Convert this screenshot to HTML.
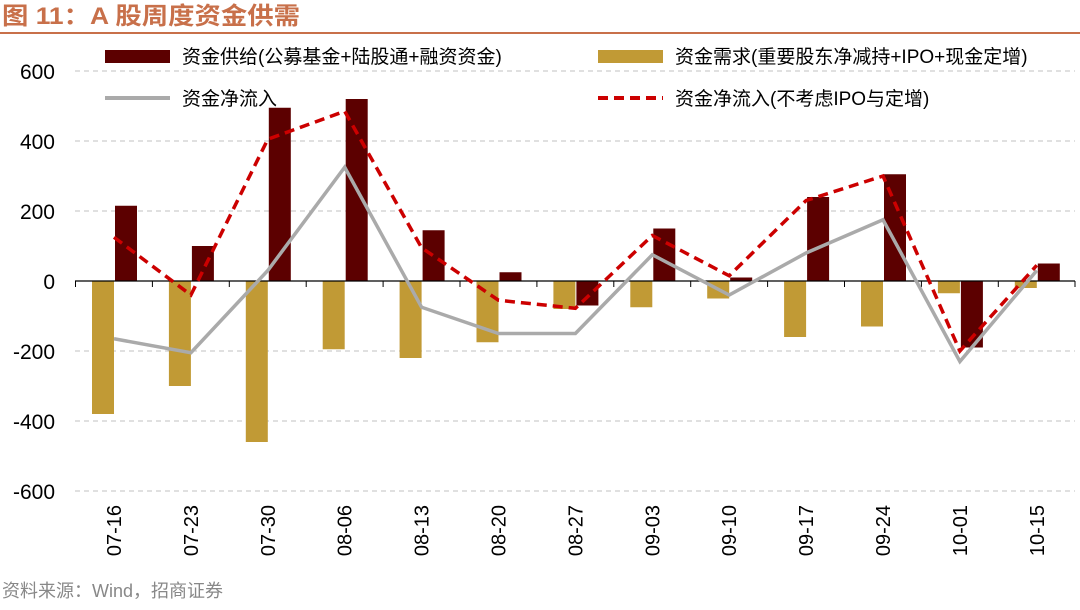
<!DOCTYPE html>
<html><head><meta charset="utf-8"><style>
body{margin:0;background:#fff;}
svg text{font-family:"Liberation Sans","Noto Sans CJK SC",sans-serif;}
</style></head><body>
<svg width="1080" height="605" xmlns="http://www.w3.org/2000/svg">
<text x="2" y="24" font-size="24" font-weight="bold" fill="#c8704a" textLength="298" lengthAdjust="spacingAndGlyphs">图 11：A 股周度资金供需</text>
<rect x="0" y="32" width="1080" height="2" fill="#c8704a"/>
<g stroke="#c0c0c0" stroke-width="1" stroke-dasharray="5,4">
<line x1="75" y1="71" x2="1075" y2="71"/><line x1="75" y1="141" x2="1075" y2="141"/>
<line x1="75" y1="211" x2="1075" y2="211"/><line x1="75" y1="351" x2="1075" y2="351"/>
<line x1="75" y1="421" x2="1075" y2="421"/><line x1="75" y1="491" x2="1075" y2="491"/>
</g>
<g font-size="21" text-anchor="end" fill="#000">
<text x="55" y="79">600</text><text x="55" y="149">400</text><text x="55" y="219">200</text>
<text x="55" y="289">0</text><text x="55" y="359">-200</text><text x="55" y="429">-400</text><text x="55" y="499">-600</text>
</g>
<g id="bars"></g>
<line x1="75" y1="281" x2="1075" y2="281" stroke="#000" stroke-width="1.2"/>
<g id="ticks" stroke="#000" stroke-width="1"></g>
<g id="lines"></g>
<g id="labels" font-size="20" fill="#000"></g>
<g font-size="19" style="font-family:'Liberation Sans','Noto Serif CJK SC',serif">
<rect x="105" y="50" width="65" height="13" fill="#5c0000"/>
<text x="182" y="63">资金供给(公募基金+陆股通+融资资金)</text>
<rect x="598" y="50" width="65" height="13" fill="#c19a35"/>
<text x="675" y="63">资金需求(重要股东净减持+IPO+现金定增)</text>
<line x1="105" y1="98" x2="170" y2="98" stroke="#aaa" stroke-width="4"/>
<text x="182" y="105">资金净流入</text>
<line x1="598" y1="98" x2="663" y2="98" stroke="#cc0000" stroke-width="4" stroke-dasharray="10,6"/>
<text x="675" y="105">资金净流入(不考虑IPO与定增)</text>
</g>
<text x="2" y="597" font-size="18" fill="#888">资料来源：Wind，招商证券</text>
<script>
var cats=["07-16","07-23","07-30","08-06","08-13","08-20","08-27","09-03","09-10","09-17","09-24","10-01","10-15"];
var sup=[215,100,495,520,145,25,-70,150,10,240,305,-190,50];
var dem=[-380,-300,-460,-195,-220,-175,-80,-75,-50,-160,-130,-35,-20];
var net=[-165,-205,30,325,-75,-150,-150,75,-40,80,175,-230,30];
var red=[125,-40,405,485,95,-55,-78,130,15,230,300,-200,45];
var Y=function(v){return 281-v*0.35;};var X=function(i){return 114+i*76.9;};
var ns="http://www.w3.org/2000/svg";
function el(t,a,p){var e=document.createElementNS(ns,t);for(var k in a)e.setAttribute(k,a[k]);document.getElementById(p).appendChild(e);return e;}
for(var i=0;i<13;i++){var c=X(i);
el("rect",{x:c-22,y:Math.min(Y(0),Y(dem[i])),width:22,height:Math.abs(dem[i]*0.35),fill:"#c19a35"},"bars");
el("rect",{x:c+1,y:Math.min(Y(0),Y(sup[i])),width:22,height:Math.abs(sup[i]*0.35),fill:"#5c0000"},"bars");
el("line",{x1:c-38.5,y1:281,x2:c-38.5,y2:287},"ticks");
var t=el("text",{x:0,y:0,"text-anchor":"end",transform:"translate("+(c+7)+",505) rotate(-90)"},"labels");t.textContent=cats[i];}
el("line",{x1:1075,y1:281,x2:1075,y2:287},"ticks");
el("polyline",{points:net.map(function(v,i){return X(i)+","+Y(v)}).join(" "),fill:"none",stroke:"#aaa","stroke-width":3.5},"lines");
el("polyline",{points:red.map(function(v,i){return X(i)+","+Y(v)}).join(" "),fill:"none",stroke:"#cc0000","stroke-width":3.5,"stroke-dasharray":"10,6"},"lines");
</script>
</svg>
</body></html>
